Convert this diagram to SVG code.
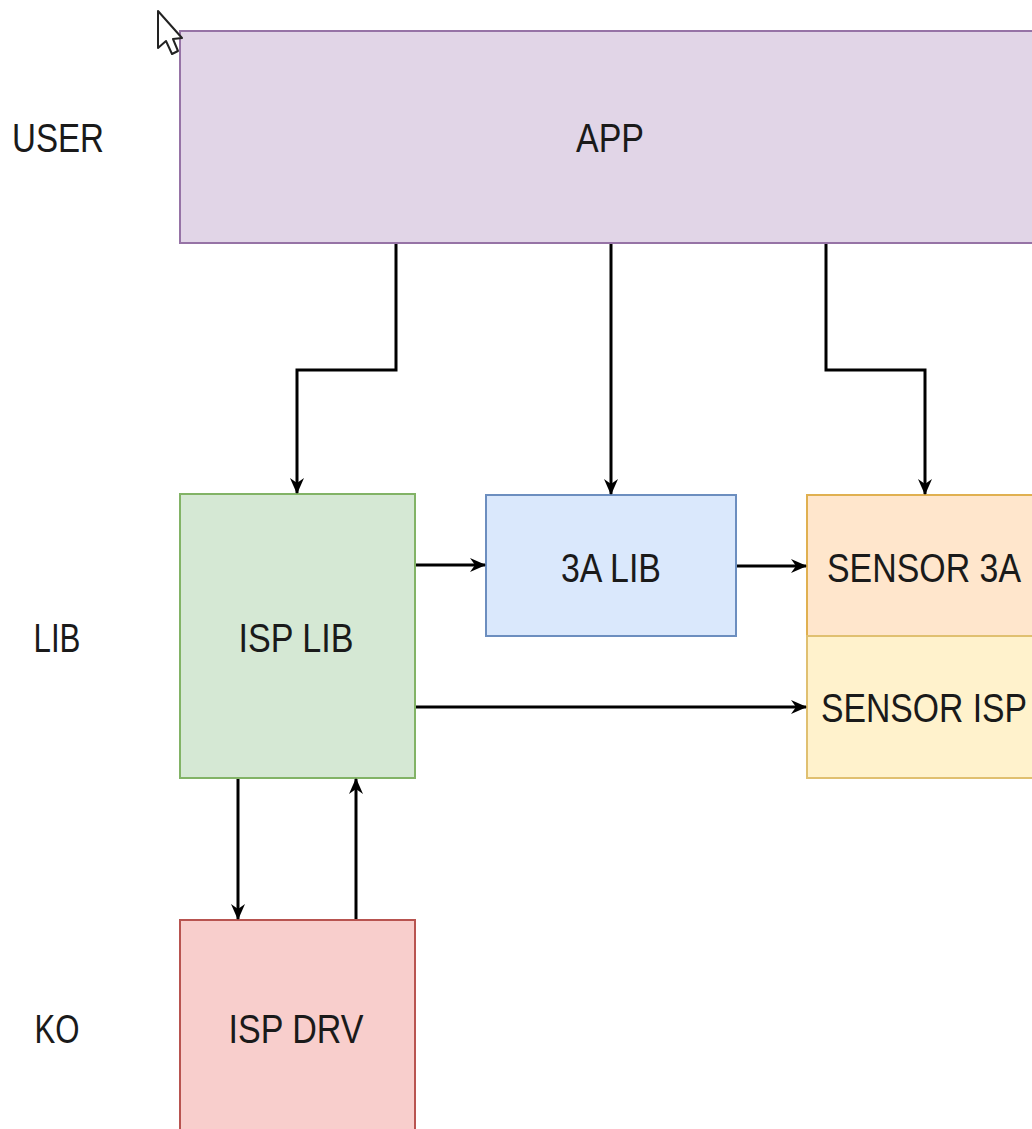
<svg xmlns="http://www.w3.org/2000/svg" width="1032" height="1129" viewBox="0 0 1032 1129">
<style>
.lbl{font-family:"Liberation Sans",Arial,sans-serif;font-size:41px;fill:#1a1a1a;text-anchor:middle}
.edge{fill:none;stroke:#000;stroke-width:3}
.box{stroke-width:2}
</style>
<defs>
<marker id="arr" viewBox="0 0 16 14" refX="15" refY="7" markerWidth="16" markerHeight="14" markerUnits="userSpaceOnUse" orient="auto">
<path d="M0,0 L16,7 L0,14 L5,7 Z" fill="#000"/>
</marker>
</defs>
<rect width="1032" height="1129" fill="#fff"/>
<g id="layer-labels">
<text class="lbl" x="58" y="152" textLength="92" lengthAdjust="spacingAndGlyphs">USER</text>
<text class="lbl" x="57" y="652" textLength="47" lengthAdjust="spacingAndGlyphs">LIB</text>
<text class="lbl" x="57" y="1043" textLength="45" lengthAdjust="spacingAndGlyphs">KO</text>
</g>
<g id="app">
<rect class="box" x="180" y="31" width="860" height="212" fill="#e1d5e7" stroke="#9673a6"/>
<text class="lbl" x="610" y="152" textLength="68" lengthAdjust="spacingAndGlyphs">APP</text>
</g>
<g id="isp-lib">
<rect class="box" x="180" y="494" width="235" height="284" fill="#d5e8d4" stroke="#82b366"/>
<text class="lbl" x="296" y="652" textLength="115" lengthAdjust="spacingAndGlyphs">ISP LIB</text>
</g>
<g id="lib-3a">
<rect class="box" x="486" y="495" width="250" height="141" fill="#dae8fc" stroke="#6c8ebf"/>
<text class="lbl" x="611" y="582" textLength="100" lengthAdjust="spacingAndGlyphs">3A LIB</text>
</g>
<g id="sensor-3a">
<rect class="box" x="807" y="495" width="240" height="141" fill="#ffe6cc" stroke="#e0b050"/>
<text class="lbl" x="924" y="582" textLength="194" lengthAdjust="spacingAndGlyphs">SENSOR 3A</text>
</g>
<g id="sensor-isp">
<rect class="box" x="807" y="636" width="240" height="142" fill="#fff2cc" stroke="#e0c070"/>
<text class="lbl" x="924" y="722" textLength="206" lengthAdjust="spacingAndGlyphs">SENSOR ISP</text>
</g>
<g id="isp-drv">
<rect class="box" x="180" y="920" width="235" height="220" fill="#f8cecc" stroke="#b85450"/>
<text class="lbl" x="296" y="1043" textLength="135" lengthAdjust="spacingAndGlyphs">ISP DRV</text>
</g>
<g id="connectors">
<path class="edge" d="M396,244 V370 H297 V493" marker-end="url(#arr)"/>
<path class="edge" d="M611,244 V494" marker-end="url(#arr)"/>
<path class="edge" d="M826,244 V370 H925 V494" marker-end="url(#arr)"/>
<path class="edge" d="M416,565 H485" marker-end="url(#arr)"/>
<path class="edge" d="M737,566 H806" marker-end="url(#arr)"/>
<path class="edge" d="M416,707 H806" marker-end="url(#arr)"/>
<path class="edge" d="M238,779 V919" marker-end="url(#arr)"/>
<path class="edge" d="M356,919 V779" marker-end="url(#arr)"/>
</g>
<g id="cursor">
<path d="M158,11 L158,48 L166,41 L172,54 L178,51 L173,39 L182,38 Z" fill="#fff" stroke="#222" stroke-width="2" stroke-linejoin="round"/>
</g>
</svg>
